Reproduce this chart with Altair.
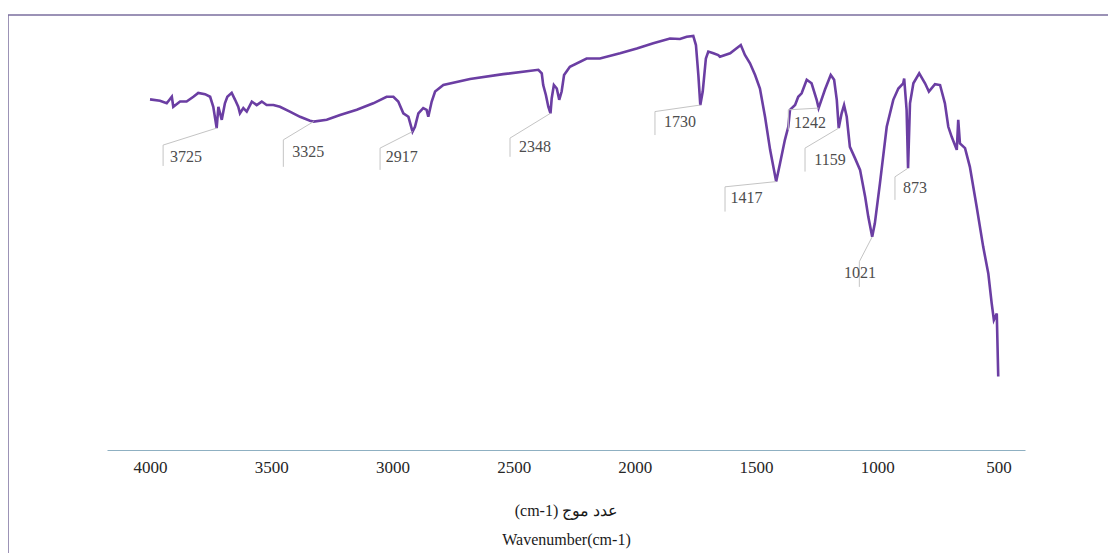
import altair as alt
import pandas as pd

# ---- spectrum ----
wavenumber = [4000, 3959, 3931, 3910, 3904, 3876, 3849, 3821, 3801, 3773, 3752, 3739, 3725, 3718, 3704,
              3691, 3681, 3663, 3649, 3636, 3629, 3615, 3601, 3580, 3560, 3539, 3519, 3491, 3464, 3423,
              3381, 3340, 3325, 3271, 3216, 3147, 3079, 3024, 2996, 2976, 2955, 2934, 2917, 2907, 2893,
              2873, 2859, 2852, 2838, 2824, 2790, 2680, 2543, 2398, 2384, 2378, 2367, 2357, 2348, 2343,
              2334, 2322, 2312, 2302, 2292, 2268, 2199, 2144, 2061, 1992, 1924, 1855, 1814, 1786, 1759,
              1748, 1738, 1730, 1720, 1707, 1697, 1676, 1656, 1649, 1607, 1563, 1546, 1525, 1504, 1484,
              1463, 1442, 1417, 1401, 1381, 1367, 1360, 1339, 1326, 1312, 1291, 1271, 1250, 1242, 1216,
              1192, 1178, 1167, 1159, 1147, 1137, 1126, 1113, 1092, 1071, 1050, 1037, 1021, 1010, 989,
              961, 934, 913, 893, 889, 879, 873, 865, 851, 827, 803, 787, 762, 741, 721,
              707, 693, 672, 666, 659, 638, 618, 590, 563, 542, 528, 519, 507, 501]
transmittance = [80.6, 80.3, 79.7, 81.2, 78.9, 80.1, 80.1, 81.2, 82.1, 81.8, 81.2, 78.9, 74.0, 78.9, 75.9,
                 79.7, 81.2, 82.1, 80.5, 78.9, 77.4, 78.6, 77.8, 80.1, 79.3, 80.1, 79.3, 79.3, 78.9, 77.8,
                 76.6, 75.7, 75.5, 75.9, 77.0, 78.2, 79.7, 81.2, 81.2, 80.1, 77.4, 76.6, 73.2, 74.3, 77.4,
                 78.6, 78.2, 76.6, 80.1, 82.4, 83.9, 85.3, 86.4, 87.4, 86.6, 83.9, 81.6, 78.9, 77.4, 80.8,
                 83.9, 83.1, 80.5, 82.4, 86.2, 88.1, 90.0, 90.0, 91.2, 92.3, 93.5, 94.6, 94.5, 95.0, 95.2,
                 93.1, 86.2, 79.3, 82.4, 90.0, 91.6, 91.2, 90.8, 90.4, 91.2, 93.1, 90.8, 88.9, 86.2, 83.1,
                 76.6, 69.0, 61.7, 65.9, 71.3, 74.3, 78.2, 79.3, 81.2, 82.0, 85.1, 84.3, 80.5, 78.6, 82.8,
                 86.2, 85.1, 80.5, 74.0, 77.4, 79.3, 76.6, 69.7, 67.1, 64.4, 58.2, 53.6, 49.0, 52.1, 61.3,
                 74.3, 80.5, 83.1, 84.3, 85.4, 78.2, 64.8, 79.7, 84.3, 86.6, 84.3, 82.4, 84.1, 83.9, 79.7,
                 74.3, 72.0, 69.0, 75.9, 70.5, 69.4, 65.1, 55.9, 46.7, 40.6, 33.7, 29.9, 31.4, 16.9]

# ---- peak callouts ----
ann_label = ["3725", "3325", "2917", "2348", "1730", "1417", "1242", "1159", "1021", "873"]
ann_peak_w = [3725, 3325, 2917, 2348, 1730, 1417, 1242, 1159, 1021, 873]
ann_peak_t = [74.0, 75.5, 73.2, 77.4, 79.3, 61.7, 78.6, 74.0, 49.0, 64.8]
ann_corner_w = [3946, 3450, 3051, 2515, 1917, 1628, 1367, 1298, 1074, 927]
ann_corner_t = [70.1, 71.3, 69.4, 71.7, 77.8, 60.5, 78.2, 69.4, 43.3, 62.8]
ann_bottom_t = [65.3, 65.1, 64.4, 67.4, 72.4, 54.8, 73.6, 64.0, 37.5, 57.5]
ann_text_w = [3852, 3347, 2962, 2412, 1814, 1539, 1278, 1195, 1071, 844]
ann_text_t = [67.4, 68.6, 67.4, 69.6, 75.4, 57.9, 75.1, 66.7, 40.6, 60.3]

x_ticks = [4000, 3500, 3000, 2500, 2000, 1500, 1000, 500]
x_title_lines = ["(cm-1) عدد موج", "Wavenumber(cm-1)"]

# chart-area frame corners (left and top edges), in axis units
frame_w = [4586, 10]
frame_t = [100, -25]

spec = pd.DataFrame({"w": wavenumber, "t": transmittance})
ann = pd.DataFrame({
    "label": ann_label, "pw": ann_peak_w, "pt": ann_peak_t,
    "cw": ann_corner_w, "ct": ann_corner_t, "bt": ann_bottom_t,
    "tw": ann_text_w, "tt": ann_text_t,
})
frame_df = pd.DataFrame({"w0": [frame_w[0]], "w1": [frame_w[1]],
                         "t0": [frame_t[0]], "t1": [frame_t[1]]})

W, H = 918, 435
SERIF = "Liberation Serif"

xscale = alt.Scale(domain=[390.6, 4177.4], reverse=True, nice=False, zero=False)
yscale = alt.Scale(domain=[0, 100], nice=False, zero=False)

x_axis = alt.Axis(values=x_ticks, ticks=False, grid=False, domain=True,
                  domainColor="#8fb0c2", domainWidth=1.2,
                  labelFont=SERIF, labelFontSize=17, labelColor="#262626",
                  labelPadding=9, format="d",
                  title=x_title_lines, titleFont=SERIF, titleFontSize=16,
                  titleFontWeight="normal", titleColor="#1a1a1a",
                  titleLineHeight=29, titleBaseline="top", titleY=52)

line = alt.Chart(spec).mark_line(color="#6b3ea3", strokeWidth=2.6).encode(
    x=alt.X("w:Q", scale=xscale, axis=x_axis),
    y=alt.Y("t:Q", scale=yscale, axis=None),
)

leader = alt.Chart(ann).mark_rule(color="#c4c4c4", strokeWidth=1).encode(
    x=alt.X("pw:Q"), x2="cw:Q",
    y=alt.Y("pt:Q"), y2="ct:Q",
)
bar = alt.Chart(ann).mark_rule(color="#c4c4c4", strokeWidth=1).encode(
    x=alt.X("cw:Q"),
    y=alt.Y("ct:Q"), y2="bt:Q",
)
labels = alt.Chart(ann).mark_text(font=SERIF, fontSize=16, color="#4d4d4d",
                                  align="center", baseline="middle").encode(
    x=alt.X("tw:Q"),
    y=alt.Y("tt:Q"),
    text="label:N",
)

frame_left = alt.Chart(frame_df).mark_rule(color="#7a6e9e", strokeWidth=1.6).encode(
    x=alt.X("w0:Q"),
    y=alt.Y("t0:Q"), y2="t1:Q",
)
frame_top = alt.Chart(frame_df).mark_rule(color="#7a6e9e", strokeWidth=1.6).encode(
    x=alt.X("w0:Q"), x2="w1:Q",
    y=alt.Y("t0:Q"),
)

chart = alt.layer(line, frame_left, frame_top, leader, bar, labels).properties(
    width=W, height=H,
    autosize=alt.AutoSizeParams(type="none"),
    padding={"left": 99, "top": 7, "right": 83, "bottom": 103},
    background="white",
).configure_view(strokeWidth=0)

chart.save("out.html", embed_options={"renderer": "svg", "actions": False})
